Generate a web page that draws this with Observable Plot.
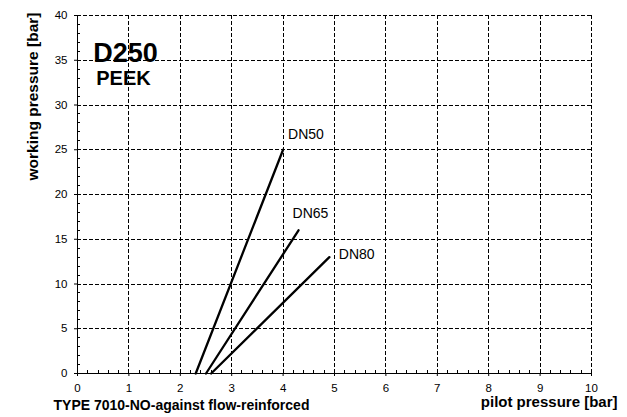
<!DOCTYPE html>
<html>
<head>
<meta charset="utf-8">
<script src="https://cdn.jsdelivr.net/npm/d3@7"></script>
<script src="https://cdn.jsdelivr.net/npm/@observablehq/plot@0.6"></script>
<style>
  html, body { margin: 0; padding: 0; background: #fff; }
  #chart { width: 627px; height: 417px; }
</style>
</head>
<body>
<div id="chart"></div>
<script>
// ---- data ----
const series = ["DN50", "DN65", "DN80"];
const startPilot = [2.3, 2.5, 2.6];     // pilot pressure where working pressure = 0
const endPilot = [4.0, 4.3, 4.9];       // pilot pressure at line end
const endWorking = [25, 16, 13];        // working pressure at line end
const xTicks = [0, 1, 2, 3, 4, 5, 6, 7, 8, 9, 10];
const yTicks = [0, 5, 10, 15, 20, 25, 30, 35, 40];
const xMinorStep = 0.2;
const yMinorStep = 1;
const titleMain = "D250";
const titleSub = "PEEK";
const xLabel = "pilot pressure [bar]";
const yLabel = "working pressure [bar]";
const footer = "TYPE 7010-NO-against flow-reinforced";

// ---- derived ----
const segments = series.flatMap((s, i) => [
  {series: s, x: startPilot[i], y: 0},
  {series: s, x: endPilot[i], y: endWorking[i]}
]);
const ends = series.map((s, i) => ({series: s, x: endPilot[i], y: endWorking[i]}));
const xMinor = d3.range(0, 10 + 1e-9, xMinorStep).filter(v => Math.abs(v - Math.round(v)) > 1e-6);
const yMinor = d3.range(0, 40 + 1e-9, yMinorStep).filter(v => v % 5 !== 0);

// per-label offsets (styling)
const labelOffset = {DN50: [5, -15], DN65: [-6, -17], DN80: [9.5, -3]};

const font = "'Liberation Sans', Arial, Helvetica, sans-serif";
const dash = "4,2";

const chart = Plot.plot({
  width: 627,
  height: 417,
  marginLeft: 77,
  marginRight: 36,
  marginTop: 15,
  marginBottom: 44,
  style: {fontFamily: font, fontSize: "11.5px", color: "#000", background: "#fff"},
  x: {domain: [0, 10], ticks: xTicks, tickSize: 3, tickPadding: 7, label: null},
  y: {domain: [0, 40], ticks: yTicks, tickSize: 3, tickPadding: 7, label: null},
  marks: [
    // dashed grid
    Plot.ruleX(xTicks.filter(d => d > 0), {stroke: "#000", strokeDasharray: dash, strokeWidth: 1, shapeRendering: "crispEdges"}),
    Plot.ruleY(yTicks.filter(d => d > 0), {stroke: "#000", strokeDasharray: dash, strokeWidth: 1, shapeRendering: "crispEdges"}),
    // minor ticks (inside)
    Plot.ruleX(xMinor, {x: d => d, y1: 0, y2: 0.35, stroke: "#000", shapeRendering: "crispEdges"}),
    Plot.ruleY(yMinor, {y: d => d, x1: 0, x2: 0.06, stroke: "#000", shapeRendering: "crispEdges"}),
    // axis lines
    Plot.ruleX([0], {stroke: "#000", strokeWidth: 1, shapeRendering: "crispEdges"}),
    Plot.ruleY([0], {stroke: "#000", strokeWidth: 1, shapeRendering: "crispEdges"}),
    // data lines
    Plot.line(segments, {x: "x", y: "y", z: "series", stroke: "#000", strokeWidth: 2.3}),
    // labels
    ...series.map(s => Plot.text(ends.filter(d => d.series === s), {
      x: "x", y: "y", text: "series", textAnchor: "start",
      dx: labelOffset[s][0], dy: labelOffset[s][1], fontSize: 14, fill: "#000"
    })),
    // titles
    Plot.text([titleMain], {frameAnchor: "top-left", dx: 48, dy: 27, textAnchor: "middle",
      fontSize: 27, fontWeight: "bold", fill: "#000"}),
    Plot.text([titleSub], {frameAnchor: "top-left", dx: 46, dy: 55.5, textAnchor: "middle",
      fontSize: 20, fontWeight: "bold", fill: "#000"}),
    // axis labels
    Plot.text([yLabel], {frameAnchor: "top-left", rotate: -90, dx: -51, dy: 81, textAnchor: "middle",
      fontSize: 15.5, fontWeight: "bold", fill: "#000"}),
    Plot.text([xLabel], {frameAnchor: "bottom-right", dx: 26, dy: 33, textAnchor: "end",
      fontSize: 15, fontWeight: "bold", fill: "#000"}),
    Plot.text([footer], {frameAnchor: "bottom-left", dx: -24, dy: 36.5, textAnchor: "start",
      fontSize: 14, fontWeight: "bold", fill: "#000"})
  ]
});
document.getElementById("chart").appendChild(chart);
</script>
</body>
</html>
